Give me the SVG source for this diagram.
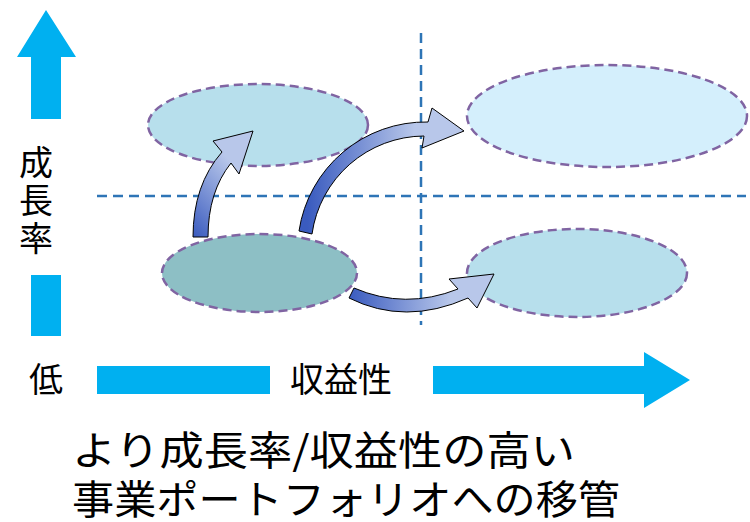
<svg xmlns="http://www.w3.org/2000/svg" width="750" height="522" viewBox="0 0 750 522">
<defs>
<style>
.axis{fill:#00b0f0}
.lbl{font-family:"Noto Sans CJK JP","Noto Sans CJK SC",sans-serif;fill:#000}
.grid{stroke:#2e75b6;stroke-width:2.5;stroke-dasharray:10,6;fill:none}
.ell{stroke:#8064a2;stroke-width:2.5;stroke-dasharray:9,5}
.arr{stroke:#000;stroke-width:1}
</style>
<linearGradient id="g1" x1="0" y1="1" x2="0.6" y2="0">
<stop offset="0" stop-color="#3a5bbf"/><stop offset="0.8" stop-color="#b8c7ea"/>
</linearGradient>
<linearGradient id="g2" x1="0" y1="0" x2="1" y2="0">
<stop offset="0.05" stop-color="#3a5bbf"/><stop offset="0.7" stop-color="#b8c7ea"/>
</linearGradient>
<linearGradient id="g3" x1="0" y1="0" x2="1" y2="0">
<stop offset="0" stop-color="#3a5bbf"/><stop offset="0.7" stop-color="#b8c7ea"/>
</linearGradient>
</defs>
<rect width="750" height="522" fill="#fff"/>

<g id="axis-y">
<polygon class="axis" points="46,10 76,57 61,57 61,119 31,119 31,57 17,57"/>
<rect class="axis" x="31" y="275" width="30" height="61"/>
<text class="lbl" x="36" y="145" font-size="34" writing-mode="vertical-rl" letter-spacing="4">成長率</text>
</g>
<g id="axis-x">
<text class="lbl" x="46" y="392" font-size="34" text-anchor="middle">低</text>
<rect class="axis" x="97" y="366" width="173" height="28"/>
<text class="lbl" x="341" y="392" font-size="34" text-anchor="middle">収益性</text>
<polygon class="axis" points="433,366 644,366 644,352 690,380 644,408 644,394 433,394"/>
</g>

<g id="grid">
<line class="grid" x1="97" y1="196" x2="746" y2="196"/>
<line class="grid" x1="421" y1="33" x2="421" y2="325"/>
</g>

<g id="node-top-left"><ellipse class="ell" cx="258" cy="125" rx="110" ry="41" fill="#b7dfec"/></g>
<g id="node-top-right"><ellipse class="ell" cx="607" cy="116" rx="140" ry="51" fill="#d4effc"/></g>
<g id="node-bottom-left"><ellipse class="ell" cx="259.5" cy="273" rx="97.5" ry="39" fill="#8dbfc5"/></g>
<g id="node-bottom-right"><ellipse class="ell" cx="577" cy="273" rx="110" ry="44" fill="#b7dfec"/></g>

<g id="connectors">
<path class="arr" fill="url(#g1)" d="M193,237 Q193,185 222,152 L213,141 L253,131 L239,174 L231,163 Q208,192 208,237 Z"/>
<path class="arr" fill="url(#g2)" d="M299,231 A128,128 0 0 1 428,122 L432,108 L464,131 L422,148 L424,136 A114,114 0 0 0 312,234 Z"/>
<path class="arr" fill="url(#g3)" d="M354,288 Q405,310 458,289 L449,279 L494,274 L477,308 L468,298 Q405,326 349,298 Z"/>
</g>

<g id="caption">
<text class="lbl" font-size="40"><tspan x="72" y="465" textLength="503" lengthAdjust="spacingAndGlyphs">より成長率/収益性の高い</tspan><tspan x="72" y="514" textLength="548" lengthAdjust="spacingAndGlyphs">事業ポートフォリオへの移管</tspan></text>
</g>
</svg>
